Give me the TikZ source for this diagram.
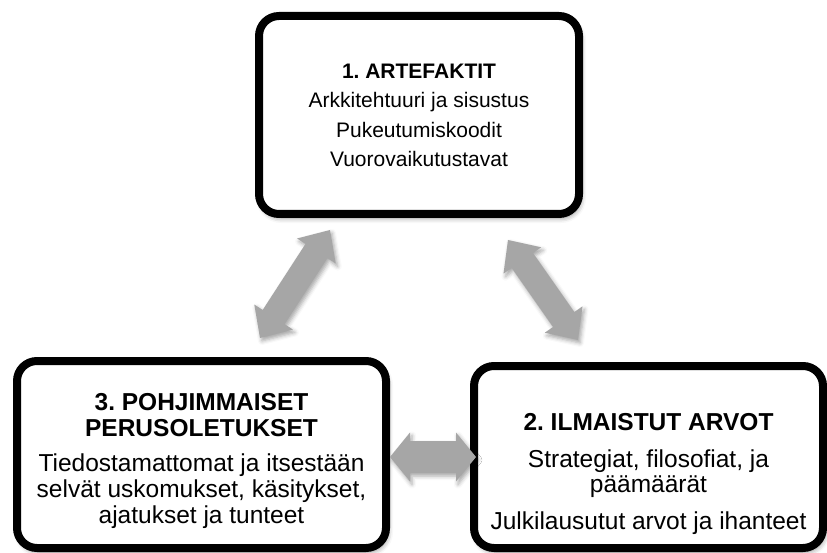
\documentclass[tikz,border=0pt]{standalone}
\usepackage{fontspec}
\setmainfont{Liberation Sans}
\usetikzlibrary{calc,shadows.blur}
\definecolor{arrowgray}{RGB}{166,166,166}
\frenchspacing
\tikzset{
  box/.style={draw=black, line width=8pt, rounded corners=20pt, fill=white,
    inner sep=0pt,
    blur shadow={shadow xshift=2pt, shadow yshift=-4pt, shadow opacity=45, shadow blur radius=5pt}},
  boxtext/.style={align=center, inner sep=0pt},
  arrowstyle/.style={fill=arrowgray,
    blur shadow={shadow xshift=2pt, shadow yshift=-3pt, shadow opacity=35, shadow blur radius=4pt}}
}
\newcommand{\dblarrow}[5]{%
  \path ($(#1)!#3!(#2)$) coordinate (h1) ($(#2)!#3!(#1)$) coordinate (h2);
  \fill[arrowstyle] (#1) -- ($(h1)!#5!90:(#2)$) -- ($(h1)!#4!90:(#2)$)
    -- ($(h2)!#4!-90:(#1)$) -- ($(h2)!#5!-90:(#1)$) -- (#2)
    -- ($(h2)!#5!90:(#1)$) -- ($(h2)!#4!90:(#1)$)
    -- ($(h1)!#4!-90:(#2)$) -- ($(h1)!#5!-90:(#2)$) -- cycle;}
\begin{document}
\begin{tikzpicture}[x=1pt, y=-1pt]
\useasboundingbox (0,0) rectangle (827,553);
% boxes
\node[box, minimum width=320pt, minimum height=198pt] (art) at (419,115) {};
\node[boxtext, font=\fontsize{21}{29.5}\selectfont] (arttext) at (419,115.5)
  {\textbf{1. ARTEFAKTIT}\\Arkkitehtuuri ja sisustus\\Pukeutumiskoodit\\Vuorovaikutustavat};
\node[box, minimum width=369pt, minimum height=187pt] (perus) at (201.5,454.5) {};
\node[boxtext, font=\fontsize{24.5}{26}\selectfont] (perustext) at (201.5,460.5)
  {\textbf{3. POHJIMMAISET}\\\textbf{PERUSOLETUKSET}\\[9pt]Tiedostamattomat ja itsestään\\selvät uskomukset, käsitykset,\\ajatukset ja tunteet};
\node[box, minimum width=349pt, minimum height=182pt] (arvot) at (648.5,457) {};
\node[boxtext, font=\fontsize{24.5}{25}\selectfont] (arvottext) at (648.5,474)
  {\textbf{2. ILMAISTUT ARVOT}\\[12pt]Strategiat, filosofiat, ja\\päämäärät\\[12pt]Julkilausutut arvot ja ihanteet};
% arrow end points
\coordinate (a1s) at (260,338);
\coordinate (a1e) at (330,230);
\coordinate (a2s) at (508,240);
\coordinate (a2e) at (578,340);
\coordinate (a3s) at (390,457);
\coordinate (a3e) at (476,457);
\dblarrow{a1s}{a1e}{25pt}{13pt}{23pt}
\dblarrow{a2s}{a2e}{25pt}{13pt}{23pt}
\dblarrow{a3s}{a3e}{20pt}{16pt}{24.5pt}
\end{tikzpicture}
\end{document}
